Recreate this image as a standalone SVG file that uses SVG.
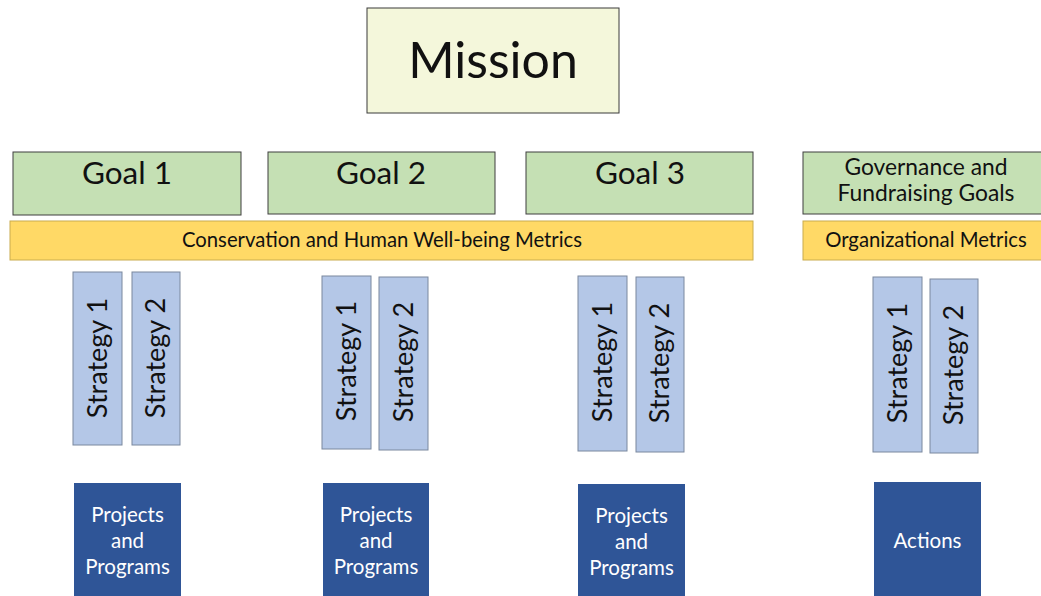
<svg xmlns="http://www.w3.org/2000/svg" width="1041" height="596" viewBox="0 0 1041 596">
<style>
text{font-family:Lato,"Open Sans","Liberation Sans",sans-serif;text-anchor:middle}
.mission{fill:#f4f7db;stroke:#3a3a3a;stroke-width:1}
.goal{fill:#c5e0b4;stroke:#3f3f3f;stroke-width:1}
.metric{fill:#ffd966;stroke:#c9ac4f;stroke-width:1}
.strat{fill:#b4c7e7;stroke:#7a889e;stroke-width:1}
.proj{fill:#2f5597}
.gt{font-size:31.5px;fill:#111}
.mt{font-size:20.3px;fill:#111}
.st{font-size:27px;fill:#111}
.pt{font-size:20.5px;fill:#fff}
</style>
<rect width="1041" height="596" fill="#fff"/>
<g id="mission"><rect class="mission" x="367" y="8" width="252" height="105"/><text x="493" y="78" style="font-size:50px;fill:#111">Mission</text></g>
<g id="goal1"><rect class="goal" x="13" y="152" width="228" height="63"/><text class="gt" x="127" y="184">Goal 1</text></g>
<g id="goal2"><rect class="goal" x="268" y="152" width="227" height="62"/><text class="gt" x="381" y="184">Goal 2</text></g>
<g id="goal3"><rect class="goal" x="526" y="152" width="227" height="62"/><text class="gt" x="640" y="184">Goal 3</text></g>
<g id="goal4"><rect class="goal" x="803" y="152" width="240" height="62"/><text x="926" y="175" style="font-size:22.8px;fill:#111">Governance and</text><text x="926" y="201" style="font-size:22.8px;fill:#111">Fundraising Goals</text></g>
<g id="metrics1"><rect class="metric" x="10" y="221" width="743" height="39"/><text class="mt" x="382" y="247">Conservation and Human Well-being Metrics</text></g>
<g id="metrics2"><rect class="metric" x="803" y="221" width="240" height="39"/><text class="mt" x="926" y="247">Organizational Metrics</text></g>
<g id="g1s1"><rect class="strat" x="73" y="272" width="49" height="173"/><text class="st" transform="translate(107,358) rotate(-90)">Strategy 1</text></g>
<g id="g1s2"><rect class="strat" x="132" y="272" width="48" height="173"/><text class="st" transform="translate(165,358) rotate(-90)">Strategy 2</text></g>
<g id="g2s1"><rect class="strat" x="322" y="276" width="49" height="173"/><text class="st" transform="translate(356,361) rotate(-90)">Strategy 1</text></g>
<g id="g2s2"><rect class="strat" x="379" y="277" width="49" height="173"/><text class="st" transform="translate(413,362) rotate(-90)">Strategy 2</text></g>
<g id="g3s1"><rect class="strat" x="578" y="276" width="49" height="175"/><text class="st" transform="translate(612,362) rotate(-90)">Strategy 1</text></g>
<g id="g3s2"><rect class="strat" x="636" y="277" width="48" height="175"/><text class="st" transform="translate(669,363) rotate(-90)">Strategy 2</text></g>
<g id="g4s1"><rect class="strat" x="873" y="277" width="49" height="175"/><text class="st" transform="translate(907,363) rotate(-90)">Strategy 1</text></g>
<g id="g4s2"><rect class="strat" x="930" y="279" width="48" height="174"/><text class="st" transform="translate(963,365) rotate(-90)">Strategy 2</text></g>
<g id="proj1"><rect class="proj" x="74" y="483" width="107" height="113"/><text class="pt" x="127.5" y="522">Projects</text><text class="pt" x="127.5" y="548">and</text><text class="pt" x="127.5" y="574">Programs</text></g>
<g id="proj2"><rect class="proj" x="323" y="483" width="106" height="113"/><text class="pt" x="376" y="522">Projects</text><text class="pt" x="376" y="548">and</text><text class="pt" x="376" y="574">Programs</text></g>
<g id="proj3"><rect class="proj" x="578" y="484" width="107" height="112"/><text class="pt" x="631.5" y="523">Projects</text><text class="pt" x="631.5" y="549">and</text><text class="pt" x="631.5" y="575">Programs</text></g>
<g id="actions"><rect class="proj" x="874" y="482" width="107" height="114"/><text class="pt" x="927.5" y="548">Actions</text></g>
<g id="connectors"></g>
</svg>
